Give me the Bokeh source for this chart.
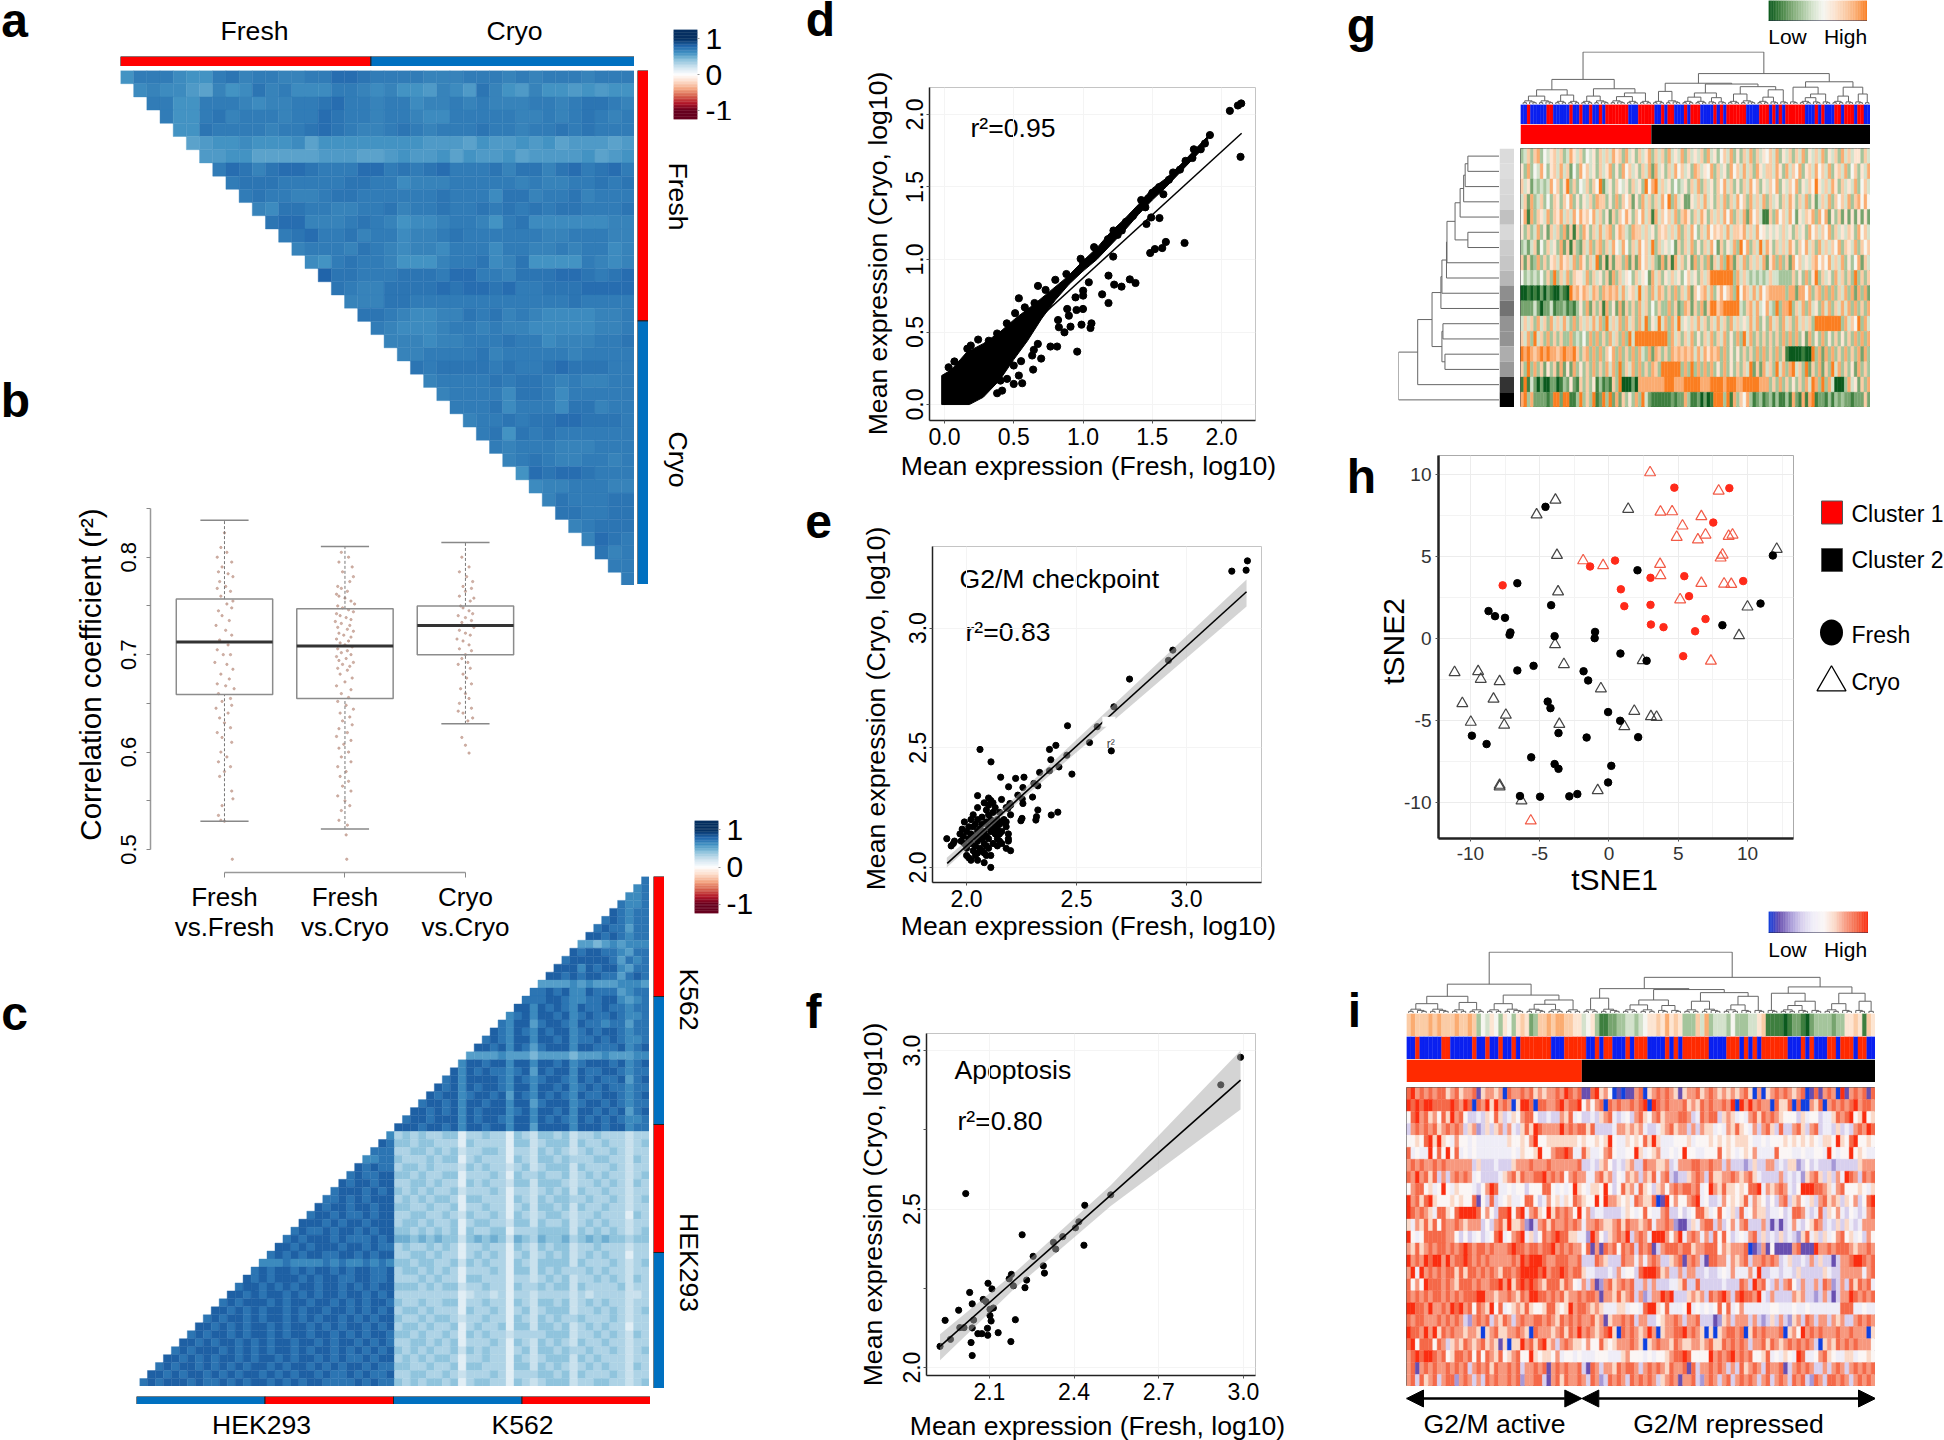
import math
import numpy as np
from bokeh.plotting import figure
from bokeh.layouts import column
from bokeh.models import Range1d, LinearAxis, FixedTicker, LinearColorMapper, Arrow, NormalHead, ColumnDataSource, PrintfTickFormatter
from bokeh.core.properties import value
from bokeh.embed import file_html
from bokeh.resources import INLINE

FONT = "Liberation Sans"
RED, BLUE = "#ff0000", "#0070c0"

# ---------- a: correlation triangle, one string per row, digit d means r = 0.5 + 0.033 d
a_rows = [
"3666433675 6655668876 6665556665 656665666",
"454421534 7564446654 5332542753 253323233",
"66336665 4556678665 6645565655 566567765",
"6336756 6656687665 6654466666 556567656",
"337666 6566787655 6765666766 566767666",
"12334 3334133333 3332221322 323122212",
"2233 1111122211 2322313223 122223123",
"687 5788766688 6767866675 775786786",
"67 7766666776 6455566666 565566767",
"6 7665567766 6666766647 756675666",
"5477665566 7566766767 676776667",
"788555676 5344566536 744444455",
"67866756 6455676666 665566655",
"5666576 5455466646 655656645",
"436766 5333566745 733336545",
"97766 6777688665 777887678",
"7655 7777878878 667778888",
"555 7766666666 666676666",
"77 6544557675 654444556",
"6 5444566565 544444556",
"5554556667 664555667",
"556666756 666656666",
"76777767 667877766",
"5666676 776565566",
"566664 776466666",
"66674 666477566",
"5667 677887776",
"673 767666666",
"65 666555666",
"5 676556656",
"387887666", "45566655", "5766677", "776677", "56777", "5876", "756", "66", "6"]

# ---------- c: correlation triangle, digit d means r = 0.1 + 0.09 d (cross block 0.13 + 0.09 d)
c_k562 = ["7","67","667","7667","87677","787677","7877577","88787677","554565666","8788776577",
"78888875767","888687886577","8878788775787","55556565556665","778786687775677","7778876677886567",
"88687876877877677","678688786787787667","7688578876877677577","87687687886787887677",
"787688688786778787667","8878687578886887778678","55556555455554555655566","688788688688786788878678",
"8687877678587886877887677","78688887687678876878778578","878687887688688786787877677",
"8788678878587687876877887678","78878688788688578886788787677","887878687888678688786887878578",
"7887888687887688687876878787667","88878878688788688588886888788677"]
c_hek = ["6","87","777","6677","87877","787788","8788788","78887878","778787888","8788788788",
"78878778788","888787887888","7877878878788","78788878777878","887878887887877","7878788778878788",
"66676666767667676","787887878878788778","8787888787887788778","78878787887887878788",
"887878878787887887878","7878887878878878787887","88787878878788788787878","787887878878787887878788",
"8878787887878878787887878","78788787887878878878787887","887878878787887887878878787",
"7878887878787887878878787878","88787878878788787887878778788","787887878787887878878787887877",
"8878788787878878787887877878778","78788878778787887878788777787877"]
c_cross = ["23232233 0 22322 0 32 1 3323 1 223222 1 22","33233222 0 32222 0 33 1 2333 1 322322 1 23",
"22332323 1 22332 0 22 1 3232 1 232232 1 22","32223233 0 23222 0 32 1 3323 2 223322 1 32",
"23323222 1 32322 1 23 1 2333 1 322232 1 22","33232233 0 22232 0 32 2 3223 1 232322 1 23",
"22332322 0 32322 1 33 1 3332 1 223232 1 32","32323223 1 22232 0 22 1 2323 1 322322 1 22",
"23232332 0 33222 0 32 1 3233 2 232232 1 23","33223223 0 22322 0 23 1 3323 1 322322 1 22",
"22332232 1 32232 0 32 1 2332 1 223222 0 32","23323223 0 23322 1 33 1 3223 1 232322 1 22",
"33232323 0 32233 0 22 2 3333 1 323232 1 23","44343433 1 34343 1 43 2 4334 2 343433 2 33",
"23223232 0 22322 0 32 1 3233 1 223222 1 22","22332322 0 23232 0 23 1 2323 1 232322 0 22",
"33233223 1 32322 0 32 1 3333 1 322232 1 23","23323232 0 22232 0 33 1 3232 2 232322 1 22",
"22232322 0 33222 0 22 1 2323 1 223232 1 32","33323233 1 22322 0 32 2 3233 1 322223 1 22",
"22222222 0 12212 0 22 1 2222 1 212222 1 12","32232233 0 22322 0 32 1 3323 1 232322 1 22",
"23323222 0 32232 0 23 1 2333 1 223232 1 23","32232332 1 22322 0 32 1 3232 2 322232 1 22",
"23323223 0 23223 0 33 1 3323 1 232322 0 22","33232232 0 32322 1 22 2 2333 1 223232 1 32",
"22332323 0 22232 0 32 1 3232 1 322322 1 22","32323223 1 32322 0 23 1 3323 2 232232 1 23",
"23232332 0 22322 0 32 1 2333 1 323222 1 22","33223223 0 33222 0 33 1 3232 1 232322 1 32",
"22332232 1 22232 0 22 2 3323 1 322232 1 22","32323323 0 23322 0 32 1 2333 1 223322 1 23"]

# ---------- b: box statistics and jittered points
b_labels = ["Fresh\nvs.Fresh", "Fresh\nvs.Cryo", "Cryo\nvs.Cryo"]
b_q1 = [0.659, 0.655, 0.700]
b_med = [0.713, 0.709, 0.730]
b_q3 = [0.757, 0.747, 0.750]
b_lo = [0.529, 0.521, 0.629]
b_hi = [0.838, 0.811, 0.815]
b_ff = [(0,.825),(-.03,.81),(.02,.805),(-.06,.80),(.06,.795),(-.02,.79),(-.05,.785),(.03,.783),(.07,.78),(-.04,.775),(.01,.77),(-.06,.768),(.05,.765),(-.03,.76),(.07,.755),(.02,.752),(-.05,.745),(.06,.748),(-.02,.74),(.04,.735),(-.07,.73),(.01,.725),(.06,.72),(-.04,.715),(.03,.71),(-.06,.705),(.05,.70),(-.01,.70),(-.08,.692),(.02,.69),(.07,.685),(-.03,.68),(.04,.675),(-.06,.67),(.01,.668),(.08,.665),(-.05,.66),(.05,.655),(-.02,.652),(-.07,.645),(.06,.648),(.03,.64),(-.04,.635),(.0,.63),(.05,.625),(-.06,.62),(-.02,.615),(.06,.61),(-.03,.60),(.02,.595),(-.05,.59),(.05,.585),(.0,.58),(-.04,.575),(.06,.56),(.07,.552),(-.02,.545),(-.05,.535),(-.03,.53),(.0,.529),(.065,.49)]
b_fc = [(-.03,.805),(.03,.80),(-.05,.795),(.06,.79),(-.02,.785),(.07,.78),(.04,.775),(-.06,.77),(-.03,.768),(.02,.765),(-.07,.762),(-.05,.76),(.0,.758),(.05,.755),(.08,.752),(-.06,.75),(-.02,.748),(.03,.746),(.07,.744),(-.07,.742),(-.04,.74),(.01,.738),(.05,.736),(-.08,.734),(-.03,.732),(.04,.73),(-.06,.728),(.02,.726),(.07,.724),(-.05,.722),(-.01,.72),(.05,.718),(-.07,.716),(.03,.714),(-.04,.712),(.0,.71),(.06,.708),(-.06,.706),(.02,.704),(-.03,.702),(.05,.70),(-.07,.698),(.01,.696),(-.05,.694),(.07,.692),(-.02,.69),(.04,.688),(-.06,.686),(.02,.684),(-.04,.68),(.06,.676),(.0,.672),(-.07,.668),(.05,.664),(-.03,.66),(.03,.656),(-.06,.652),(.01,.648),(.07,.644),(-.04,.64),(.04,.636),(-.02,.632),(.06,.628),(-.05,.624),(.02,.62),(-.07,.616),(.05,.612),(-.01,.608),(-.05,.604),(.03,.60),(-.03,.595),(.05,.59),(-.06,.585),(.01,.58),(-.04,.575),(.03,.57),(-.02,.565),(.05,.56),(-.06,.555),(.0,.55),(.04,.545),(-.03,.54),(-.05,.53),(.02,.525),(.01,.515),(.015,.49)]
b_cc = [(-.03,.80),(.03,.79),(-.05,.785),(.01,.78),(.06,.775),(-.02,.77),(.05,.768),(.0,.765),(-.05,.76),(.07,.758),(.04,.755),(-.04,.75),(-.02,.748),(.03,.745),(.06,.742),(-.06,.74),(.0,.738),(.05,.735),(-.03,.733),(.02,.73),(.07,.728),(-.05,.725),(.0,.722),(.04,.72),(-.07,.716),(-.02,.714),(.03,.71),(-.05,.706),(.05,.704),(.0,.70),(-.03,.696),(.02,.692),(-.06,.69),(.04,.686),(-.02,.68),(.01,.676),(.05,.67),(-.04,.665),(.0,.66),(.03,.655),(-.05,.65),(.05,.645),(-.02,.64),(.06,.635),(-.06,.642),(.02,.632),(-.03,.615),(.0,.607),(.03,.599)]

# ---------- d: scatter of mean expression
d_line_x, d_line_y = [0.0, 2.145], [0.0, 1.871]
d_band_x = [-.02,.05,.16,.28,.4,.52,.645,.76,.886,1.0,1.1,1.2,1.3,1.4,1.5,1.6,1.7,1.8,1.9,1.9,1.8,1.7,1.6,1.5,1.4,1.3,1.2,1.1,1.0,.9,.8,.7,.6,.5,.4,.28,.18,-.02]
d_band_y = [.2,.24,.36,.42,.5,.6,.69,.78,.88,.99,1.08,1.19,1.28,1.38,1.49,1.56,1.65,1.75,1.85,1.8,1.7,1.6,1.5,1.41,1.31,1.2,1.1,1.0,.92,.83,.72,.59,.44,.31,.17,.05,0,0]
d_x = [2.137,2.06,2.118,2.142,1.916,1.733,1.598,1.572,1.519,1.485,1.552,1.492,1.458,1.379,1.338,1.278,1.225,1.184,1.218,1.138,1.184,1.042,1.001,1.001,.946,.953,1.0,.898,.886,.82,.826,.91,.866,.989,1.061,1.054,.958,.813,.765,.698,.645,.674,.633,.64,.553,.50,.537,.50,.452,.561,.404,.416,.38,
.03,.072,.19,.165,.243,.32,.38,.45,.537,.51,.58,.675,.65,.73,.8,.88,.983,1.08,1.0,1.1,1.18,1.22,1.25,1.31,1.36,1.42,1.45,1.5,1.55,1.58,1.65,1.7,1.74,1.8,1.85,1.88,1.79,1.62,1.47,1.28]
d_y = [1.708,2.025,2.062,2.076,1.858,1.114,1.121,1.079,1.072,1.045,1.286,1.29,1.245,.838,.863,.813,.827,.889,1.02,.76,.70,.843,.785,.751,.739,.652,.659,.613,.659,.583,.533,.537,.498,.551,.56,.528,.365,.40,.40,.317,.377,.418,.338,.241,.299,.269,.20,.142,.177,.147,.165,.096,.078,
.257,.297,.407,.385,.448,.44,.49,.56,.733,.63,.67,.818,.70,.79,.86,.90,1.005,1.085,.98,1.05,1.14,1.2,1.17,1.26,1.3,1.41,1.36,1.46,1.5,1.45,1.6,1.62,1.68,1.76,1.76,1.8,1.7,1.55,1.42,1.2]

# ---------- e: G2/M checkpoint
e_pts = [(3.277,3.281),(3.206,3.238),(3.271,3.242),(2.938,2.908),(2.918,2.865),(2.741,2.787),(2.67,2.671),(2.594,2.588),(2.459,2.592),(2.559,2.522),(2.658,2.487),(2.406,2.51),(2.377,2.493),(2.383,2.45),(2.061,2.493),(2.111,2.441),(2.456,2.469),(2.42,2.42),(2.377,2.404),(2.479,2.39),(2.332,2.397),(2.155,2.377),(2.223,2.372),(2.261,2.377),(2.306,2.351),(2.324,2.341),(2.191,2.337),(2.256,2.334),(2.233,2.302),(2.3,2.294),(2.253,2.286),(2.256,2.267),(2.159,2.284),(2.324,2.24),(2.415,2.231),(2.385,2.219),(2.318,2.212),(2.315,2.198),(2.252,2.205),(2.247,2.195),(2.188,2.247),(2.197,2.267),
(1.91,2.12),(1.93,2.09),(1.94,2.1),(1.945,2.11),(1.97,2.14),(1.975,2.11),(1.98,2.16),(1.985,2.13),(1.99,2.1),(1.99,2.19),(2.0,2.15),(2.0,2.08),(2.0,2.05),(2.01,2.17),(2.01,2.12),(2.01,2.04),(2.02,2.2),(2.02,2.14),(2.02,2.1),(2.02,2.03),(2.03,2.22),(2.03,2.17),(2.03,2.13),(2.03,2.07),(2.04,2.18),(2.04,2.09),(2.04,2.05),(2.05,2.3),(2.05,2.25),(2.05,2.2),(2.05,2.15),(2.05,2.11),(2.05,2.06),(2.05,2.03),(2.06,2.16),(2.06,2.13),(2.06,2.08),(2.07,2.21),(2.07,2.18),(2.07,2.12),(2.07,2.07),(2.08,2.27),(2.08,2.15),(2.08,2.1),(2.08,2.06),(2.08,2.02),(2.09,2.24),(2.09,2.19),(2.09,2.13),(2.09,2.09),(2.09,2.05),(2.1,2.29),(2.1,2.26),(2.1,2.22),(2.1,2.17),(2.1,2.12),(2.1,2.08),(2.11,2.28),(2.11,2.2),(2.11,2.15),(2.11,2.05),(2.11,2.0),(2.12,2.27),(2.12,2.23),(2.12,2.19),(2.12,2.16),(2.12,2.1),(2.13,2.25),(2.13,2.18),(2.13,2.14),(2.14,2.2),(2.14,2.16),(2.14,2.12),(2.14,2.09),(2.15,2.23),(2.15,2.18),(2.15,2.14),(2.15,2.11),(2.16,2.19),(2.16,2.15),(2.16,2.1),(2.17,2.2),(2.18,2.25),(2.18,2.19),(2.18,2.17),(2.19,2.14),(2.19,2.12),(2.19,2.11),(2.2,2.07),(2.18,2.08),(2.2,2.22),(2.2,2.26)]
e_band_x = [1.91, 2.2, 2.6, 3.273]
e_band_lo = [2.0, 2.245, 2.56, 3.09]
e_band_hi = [2.04, 2.275, 2.62, 3.203]
e_line_x, e_line_y = [1.912, 3.273], [2.017, 3.152]

# ---------- f: Apoptosis
f_pts = [(2.99,2.979),(2.92,2.892),(2.53,2.545),(2.438,2.512),(2.417,2.46),(2.405,2.441),(2.016,2.549),(2.216,2.419),(2.36,2.413),(2.327,2.395),(2.335,2.374),(2.435,2.386),(2.255,2.351),(2.291,2.321),(2.295,2.298),(2.178,2.294),(2.17,2.28),(2.232,2.276),(2.185,2.258),(2.226,2.252),(2.095,2.266),(2.109,2.248),(2.03,2.237),(2.078,2.215),(2.088,2.208),(2.039,2.201),(2.102,2.184),(2.114,2.188),(1.991,2.181),(2.102,2.164),(2.106,2.147),(2.044,2.15),(2.192,2.151),(1.943,2.149),(1.995,2.126),(2.01,2.126),(2.039,2.125),(2.093,2.124),(2.131,2.11),(2.059,2.107),(2.073,2.107),(2.094,2.102),(1.962,2.089),(2.035,2.079),(2.176,2.082),(1.925,2.067),(2.039,2.038)]
f_band_x = [1.925, 2.19, 2.53, 2.99]
f_band_lo = [2.023, 2.25, 2.51, 2.814]
f_band_hi = [2.105, 2.30, 2.575, 3.0]
f_line_x, f_line_y = [1.925, 2.99], [2.067, 2.907]

# ---------- g: heatmap, digit 0 low to 9 high
g_rows = [
"3473783546 7473486473 5463747486 7384637468 3747384648 3746473846 3574836374 8374657483 6473748364 7483647384 7466374",
"6383548536 7484725385 7463746836 3857463748 2846374857 4638746583 7463857484 7386477486 3847583674 8574836748 3573648",
"7462434348 5736937354 7375924637 5463746395 8947463534 6374837463 7584736374 8573647583 6475836475 9647486374 6483574",
"4728347353 7637583636 4738773638 3757263847 3748593846 2264748463 7483748573 8474837463 7486374836 2474837574 8378585",
"5818376483 7684748586 7584736273 7586375847 1847574837 8637486374 7485837482 8574117385 7485264768 3858263726 2626262",
"6373483627 4738271738 6374847836 8743877474 6376747483 7485374857 6748477684 7485646464 7463746385 7475837464 7638574",
"3424725374 6382717327 4837837485 4853748574 9374645273 7483637485 2736483958 3749486374 7486375847 3847475837 6483757",
"7272383736 7486748386 3749271727 7382728574 7328271847 3628373827 4839827483 7474826838 3728574647 8575847483 6358274",
"5343435373 9374837664 8374637283 7465374652 8473647463 5746374799 9999938474 3434347443 3337363836 9374638473 7393737",
"0010102021 0021097868 7487387878 4846749473 8487373837 4827578483 6857839587 4848578888 8388288583 7838383748 3828382",
"2222420224 1223121363 8273718362 8273738473 5373383723 8727382799 7899999437 8484584393 8893748384 6384837484 8383738",
"4747384738 4748438374 7484839474 8384738493 6494838494 6474847374 8473847464 8483638473 8473847473 9999999938 4759384",
"7483947383 7373383435 3838373847 3839499999 9999938473 7483637483 7483638394 8373737373 8383836283 6383637363 7383838",
"9898789898 8789889737 8383837583 8373838438 2873738787 8784848687 8383636373 7383837383 7100001009 3828383738 3738283",
"7393837263 7282628363 7383738483 9374838373 8739999993 8393838383 6383637374 9272847394 8389473927 3827394837 3628373",
"1914202002 2013262173 7361312173 9000208888 8888999888 9999988899 9989998899 9998883738 3736373849 8393840003 8462738",
"8938222212 9929911393 7391293928 2736383942 1111112122 8311202019 9939183758 3123123131 1318218189 1221313232 2122272"]
g_row_gray = [.86,.87,.85,.84,.76,.85,.80,.78,.72,.56,.45,.58,.58,.68,.60,.20,.0]

# sample annotations shared by g and i
sample_type = "bbrbbbbbrr bbbbbrbbrb brbbrbrrrr rrrbbbrrrr rbbrbrrbbb rbrrrbbbbr brbrrrrrrb bbbrrrbrbr brrrrrrbbb rbrbbbrrbr rrbrrbb"
cluster_sizes = [40, 67]
i_score = "7877787877 7877873546 5365367623 7787887766 4563112233 4434566768 6763337483 4443533344 6711110122 1023333233 6676176"

# ---------- i: heatmap, digit 0 low to 9 high
i_rows = [
"8978787886 7867781677 6708778786 7677879878 1189675010 1178067878 7616778678 7676767860 7067878767 8018178709 1787818",
"9898998888 9879808796 9787069980 8877897889 5757808787 7878909878 7778676878 7787909797 8770866808 0076807878 7897887",
"5897867586 9785334365 8634657885 3343376845 3343678434 5378657867 7788734878 8367645478 6878765553 6455344687 8956956",
"3787878678 7873672363 6737436869 8777797878 8683333477 6767433467 8677373766 4547686547 3786383378 6378344363 4378798",
"5565896965 4755454444 4446556579 5566666665 6556569544 6565869644 4555645556 5656566654 4545556565 6565466596 5895565",
"8454495859 5845454444 4444546556 9557889844 8644578544 5596456744 5459554455 5856545657 4444855544 5445549545 5956544",
"7878778787 7777736333 4333677787 7787777778 3343675343 6733877667 3477788778 7737333236 3377343662 3534333233 3336777",
"8797868373 7878745333 3467868778 8978785787 7447867354 7673768478 3233678738 6677876786 4333373434 2678636374 9873878",
"5788564595 4655543579 8445455355 5885454596 5466595358 6748653675 7878878459 7686656588 9476787435 9998876478 5556546",
"9786896555 6565581538 3456445885 3475646587 6559597765 6487668019 5755789453 3475656847 6535378367 5463786763 6573589",
"9878764886 5899998575 3889589478 6596878759 5734433334 6545854478 3353458864 5854638457 6634453488 7434836574 3543478",
"6476868587 7876777353 7869667213 7868778787 4778766786 8776784778 7211364788 3735747833 3731313474 3568734363 6434777",
"9545888887 7535345345 8945789463 5878988664 4297536787 9378749997 5794787473 8585345478 3634363432 6846364578 5645375",
"7686787887 8789878878 7778988788 7889787877 5817187858 7838781378 8878867788 8576777801 2715111178 1119778788 8767787",
"9787989979 7889878787 7777879899 9877888778 3338763338 7747478733 6781787318 8774767837 7878734633 4373633137 7899878",
"7949787878 8686887878 7688789999 8978898788 6443334374 5538999867 3373773343 3454744474 9334434436 3333364337 7777478",
"8575988878 7688878778 8979689898 7688868754 7371278678 7833737333 4468338333 3343338739 7843737853 7337387237 3868784",
"8787878878 7878889977 6778768799 8878786778 7887177686 7837237798 9333676738 7897389887 9437333376 7332373137 7987878",
"9988797787 9897858769 5845676865 5688656978 8767644466 4554899658 4445945454 5858457444 4445544454 4544444448 8844544",
"8788777878 7873278783 7687378778 8787687878 7786716778 7837733567 7873778333 1267377737 3236373267 3873773767 3378787",
"9887979687 8776776067 8667787608 7776786879 7876789608 7876797067 7889787606 0678878068 7877780675 9787877787 7877706",
"8958885873 6768767867 6160669786 8967378766 5755865677 7876067877 6876677678 6687878737 7868767878 7873067687 8787775",
"7898998785 6887858587 6856785596 5665745545 4445554446 7555454556 7889855559 7878978785 5684546549 8445786544 6645565",
"7817878778 7878378786 8778783778 7817878778 3187377687 8873787876 8778183778 7873738678 7387781378 7873373787 3787878",
"7838678378 8278737387 8778782778 8317868778 7387238787 3878787367 8717783278 7378378787 3783787387 8328738878 7378787"]

# dendrogram topology [height, left, right]; an integer is a small cluster of that many leaves
top_tree = [1.0,
  [.478, [.28, [.16, 5, 5], [.18, 4, 4]], [.30, [.16, 4, 5], [.22, [.15, 5, 4], 4]]],
  [.589,
    [.405, [.25, 4, 5], [.39, [.22, [.14, 4, 4], [.13, 3, 3]], [.34, [.2, 4, 5], [.28, [.14, 4, 3], 3]]]],
    [.433, [.33, 3, [.2, [.13, 4, 3], 3]], [.33, [.16, 4, 3], [.2, 3, 2]]]]]
leaf_heights = {2: .035, 3: .05, 4: .06, 5: .07}
_n5 = [.44, [.39, [.355, [.34, [.313, 1, 1], 1], 1], 1], [.313, 1, 1]]
_n10 = [.58, [.57, [.525, [.52, _n5, 1], 1], 1], 1]
left_tree = [1.0, [.81, [.668, _n10, [.57, [.56, 1, 1], [.54, 1, 1]]], 1], 1]

# ---------- h: tSNE
h_fresh_red = [(4.72,9.2),(8.69,9.17),(7.53,7.07),(.44,4.75),(-1.36,4.39),(-7.67,3.24),(3,3.7),(5.44,3.8),(9.69,3.5),(.86,3.0),(5.78,2.58),(1.11,1.97),(3,2.05),(6.97,1.19),(3.03,.85),(3.94,.69),(6.22,.44),(5.36,-1.08)]
h_fresh_blk = [(-4.58,8.03),(-6.61,3.37),(2.06,4.16),(11.83,5.06),(-4.17,2.03),(10.94,2.13),(-8.69,1.67),(-8.22,1.36),(-7.5,1.26),(-7.11,.37),(-7.17,.22),(-3.92,.14),(-1,.4),(-1.03,.02),(8.19,.81),(.83,-.92),(2.72,-1.36),(-6.61,-1.95),(-5.44,-1.67),(-1.83,-2.0),(-1.5,-2.56),(-4.42,-3.85),(-4.22,-4.25),(-.06,-4.49),(.81,-5.02),(-3.64,-5.77),(-9.89,-5.93),(-8.83,-6.44),(-1.61,-6.04),(2.11,-6.02),(-5.61,-7.25),(-3.92,-7.66),(-3.64,-7.95),(.17,-7.77),(-.06,-8.78),(-6.42,-9.61),(-4.97,-9.65),(-2.86,-9.63),(-2.28,-9.49)]
h_cryo_red = [(2.97,10.12),(7.92,9.0),(3.72,7.72),(4.56,7.74),(6.67,7.44),(5.31,6.87),(4.89,6.18),(6.42,6.02),(6.97,6.32),(8.64,6.24),(8.92,6.32),(8.2,5.1),(8.06,4.92),(-1.86,4.75),(-.42,4.45),(3.69,4.53),(3.72,3.84),(6.67,3.37),(8.31,3.33),(8.83,3.31),(5.14,2.37),(7.36,-1.37),(-5.64,-11.12)]
h_cryo_blk = [(-3.86,8.45),(-5.22,7.55),(1.39,7.89),(12.11,5.45),(-3.75,5.08),(-3.67,2.85),(10,1.93),(9.39,.18),(-3.89,-.37),(-3.25,-1.58),(2.44,-1.34),(-11.14,-2.07),(-9.44,-2.01),(-9.25,-2.48),(-7.89,-2.62),(-.58,-3.06),(-10.58,-3.96),(-8.33,-3.69),(-7.44,-4.67),(-9.97,-5.1),(-7.56,-5.28),(-3.58,-5.23),(1.83,-4.43),(3.03,-4.76),(3.44,-4.8),(1.11,-5.37),(-7.89,-8.94),(-7.89,-9.04),(-.81,-9.27),(-6.31,-9.9)]

# ---------- palettes
def gradient(stops, n=256):
    rgb = np.array([[int(s[i:i+2], 16) for i in (1, 3, 5)] for s in stops], float)
    t = np.linspace(0, 1, len(stops))
    q = np.linspace(0, 1, n)
    out = np.stack([np.interp(q, t, rgb[:, k]) for k in range(3)], axis=1).astype(int)
    return ["#%02x%02x%02x" % tuple(v) for v in out]

corr_map = LinearColorMapper(palette=gradient(["#67001F","#B2182B","#D6604D","#F4A582","#FDDBC7","#FFFFFF","#D1E5F0","#92C5DE","#4393C3","#2166AC","#053061"]), low=-1, high=1)
green_map = LinearColorMapper(palette=gradient(["#0b5a1e","#3f8040","#78a570","#a5c59c","#d5e3cd","#f6f7f1","#fde5d2","#fbcda8","#fbad72","#fb7e21"]), low=0, high=9)
purple_map = LinearColorMapper(palette=gradient(["#1040e0","#6a50b0","#a89ad8","#d8d0ee","#f0eef8","#fbf7f6","#fbd9c8","#f89a80","#f56a4a","#fb2d10"]), low=0, high=9)

def place(left, top):
    return {"position": "absolute", "left": f"{left}px", "top": f"{top}px"}

def bare(left, top, w, h, xr, yr):
    p = figure(width=w, height=h, frame_width=w, frame_height=h, x_range=Range1d(*xr), y_range=Range1d(*yr),
               x_axis_type=None, y_axis_type=None, toolbar_location=None, output_backend="svg", frame_align=False,
               min_border=0, background_fill_color=None, border_fill_color=None, outline_line_color=None,
               styles=place(left, top))
    figs.append(p)
    return p

def axes(left, top, w, h, xr, yr, L=110, B=80, T=40, R=60):
    p = figure(width=w+L+R, height=h+T+B, frame_width=w, frame_height=h, x_range=Range1d(*xr), y_range=Range1d(*yr),
               toolbar_location=None, output_backend="svg", min_border_left=L, min_border_right=R, min_border_top=T,
               min_border_bottom=B, background_fill_color=None, border_fill_color=None, outline_line_color="#c4c4c4",
               frame_align=False, styles=place(left-L, top-T))
    figs.append(p)
    return p

def style(p, xticks, yticks, tick_px="23px", xstand=4, ystand=3, vertical=True, fmt="%.1f"):
    for ax, ticks, lab_st in ((p.xaxis[0], xticks, xstand), (p.yaxis[0], yticks, ystand)):
        ax.major_label_text_font = FONT
        ax.major_label_text_font_size = tick_px
        ax.major_label_text_color = "#000000"
        ax.major_label_standoff = lab_st
        ax.ticker = FixedTicker(ticks=ticks)
        ax.formatter = PrintfTickFormatter(format=fmt)
        ax.major_tick_in = 0
        ax.major_tick_out = 3
        ax.minor_tick_line_color = None
        ax.axis_line_color = "#222222"
        ax.axis_line_width = 1.5
        ax.major_tick_line_color = "#555555"
    if vertical:
        p.yaxis[0].major_label_orientation = "vertical"
    p.xgrid.grid_line_color = "#f4f4f4"
    p.ygrid.grid_line_color = "#f4f4f4"

def draw_cells(p, lefts, tops, vals, mapper):
    src = ColumnDataSource(dict(l=lefts, r=[v+1 for v in lefts], t=tops, b=[v+1 for v in tops], v=vals))
    col = {"field": "v", "transform": mapper}
    p.quad(left="l", right="r", top="t", bottom="b", source=src, fill_color=col, line_color=col, line_width=0.4)

def blocks(p, sizes, colors, horizontal=True, edge="#222222"):
    pos = 0
    for s, c in zip(sizes, colors):
        if horizontal:
            p.quad(left=[pos], right=[pos+s], bottom=[0], top=[1], fill_color=c, line_color=edge, line_width=1)
        else:
            p.quad(left=[0], right=[1], top=[pos], bottom=[pos+s], fill_color=c, line_color=edge, line_width=1)
        pos += s

def tree_segments(node, start):
    if isinstance(node, int):
        if node == 1:
            return [], start + .5, 0.0, 1
        h = leaf_heights[node]
        a, b = node // 2, node - node // 2
        sa, ca, ha, na = tree_segments(a, start)
        sb, cb, hb, nb = tree_segments(b, start + a)
        return sa + sb + [([ca, ca, cb, cb], [ha, h, h, hb])], (ca + cb) / 2, h, node
    h, l, r = node
    sa, ca, ha, na = tree_segments(l, start)
    sb, cb, hb, nb = tree_segments(r, start + na)
    return sa + sb + [([ca, ca, cb, cb], [ha, h, h, hb])], (ca + cb) / 2, h, na + nb

def colorbar_v(left, top, w, h, tick_gap):
    p = figure(width=w+50, height=h+2, frame_width=w, frame_height=h, x_range=Range1d(0, 1), y_range=Range1d(-1.25, 1.25),
               x_axis_type=None, y_axis_type=None, toolbar_location=None, output_backend="svg", min_border_left=0,
               min_border_right=50, min_border_top=1, min_border_bottom=1, background_fill_color=None, border_fill_color=None,
               outline_line_color=None, frame_align=False, styles=place(left, top-1))
    lv = np.linspace(-1.25, 1.25, 61)
    src = ColumnDataSource(dict(b=lv[:-1], t=lv[1:], v=(lv[:-1]+lv[1:])/2))
    c = {"field": "v", "transform": corr_map}
    p.quad(left=0, right=1, bottom="b", top="t", source=src, fill_color=c, line_color=c, line_width=0.4)
    ax = LinearAxis(ticker=FixedTicker(ticks=[-1, 0, 1]), major_label_text_font=FONT, major_label_text_font_size="30px",
                    major_label_text_color="#000000", axis_line_color=None, major_tick_in=0, major_tick_out=2,
                    major_tick_line_color="#999999", major_label_standoff=tick_gap,
                    major_label_overrides={-1: "-1", 0: "0", 1: "1"}, minor_tick_line_color=None)
    p.add_layout(ax, "right")
    figs.append(p)
    return p

def colorbar_h(left, top, w, h, mapper):
    p = bare(left, top, w, h, (0, 9), (0, 1))
    lv = np.linspace(0, 9, 61)
    src = ColumnDataSource(dict(l=lv[:-1], r=lv[1:], v=(lv[:-1]+lv[1:])/2))
    c = {"field": "v", "transform": mapper}
    p.quad(left="l", right="r", bottom=0, top=1, source=src, fill_color=c, line_color=c, line_width=0.4)
    p.line(x=[0, 9], y=[0, 0], line_color="#222244", line_width=2)
    return p

def clean(s, n, pad="5"):
    s = s.replace(" ", "")
    return s.ljust(n, pad)[:n]

figs = []
sheets = {(i, j): bare(l, t, w, h, (l, l+w), (t+h, t))
          for (i, j), (l, t, w, h) in {(0, 0): (0, 0, 800, 1400), (1, 0): (800, 0, 1144, 1400),
                                       (0, 1): (0, 1300, 800, 140), (1, 1): (800, 1300, 1144, 140)}.items()}

def sheet(x, y):
    return sheets[(int(x >= 800), int(y >= 1390))]

def T(x, y, s, size="26.6px", angle=0, align="center", bold=False):
    sheet(x, y).text(x=[x], y=[y], text=[s], text_font=value(FONT), text_font_size=size, angle=angle, text_align=align,
                     text_baseline="middle", text_color="#000000", text_font_style="bold" if bold else "normal")

VERT = math.pi/2
for s, x, y in [("a",14,20),("b",15,400),("c",14,1013),("d",820,19),("e",818,521),("f",813,1011),("g",1361,25),("h",1361,476),("i",1354,1010)]:
    T(x, y, s, "48px", bold=True)

# ---- panel a
p = bare(120, 70, 514, 515, (0, 39), (39, 0))
L_, T_, V_ = [], [], []
for r, s in enumerate(a_rows):
    s = s.replace(" ", "")[-(39-r):]
    for i, ch in enumerate(s):
        L_.append(39-len(s)+i); T_.append(r); V_.append(.5+.033*int(ch))
draw_cells(p, L_, T_, V_, corr_map)
blocks(bare(120, 55, 514, 11, (0, 39), (0, 1)), [19, 20], [RED, BLUE])
blocks(bare(637, 70, 11, 514, (0, 1), (39, 0)), [19, 20], [RED, BLUE], horizontal=False)
colorbar_v(673, 29, 24, 90, 6)
T(254, 30, "Fresh"); T(514, 30, "Cryo")
T(677, 196, "Fresh", angle=-VERT); T(677, 459, "Cryo", angle=-VERT)

# ---- panel b
p = axes(150, 508, 380, 364, (0.386, 3.54), (0.4764, 0.85), L=110, B=90)
p.outline_line_color = None
style(p, [1, 2, 3], [.5, .6, .7, .8], tick_px="22px", xstand=4, ystand=10)
p.xaxis[0].major_label_text_font_size = "26px"
p.xaxis[0].major_label_text_line_height = 1.0
p.xaxis[0].major_label_overrides = {1: b_labels[0], 2: b_labels[1], 3: b_labels[2]}
p.xaxis[0].bounds = (1, 3)
p.yaxis[0].bounds = (.5, .85)
p.yaxis[0].ticker = FixedTicker(ticks=[.5, .6, .7, .8], minor_ticks=[.55, .65, .75, .85])
p.yaxis[0].minor_tick_line_color = "#888888"
p.yaxis[0].minor_tick_in = 0
p.yaxis[0].minor_tick_out = 4
p.yaxis[0].major_tick_out = 4
for ax in (p.xaxis[0], p.yaxis[0]):
    ax.axis_line_color = "#999999"; ax.major_tick_line_color = "#888888"
p.xaxis[0].major_tick_out = 5
p.grid.grid_line_color = None
for cat, pts in zip([1, 2, 3], [b_ff, b_fc, b_cc]):
    p.scatter(x=[cat+a for a, b in pts], y=[b for a, b in pts], size=2.3, color="#c09a8c", alpha=.75)
cats = [1, 2, 3]
p.segment(x0=cats, x1=cats, y0=b_lo, y1=b_q1, line_color="#777777", line_dash="3 2", line_width=1)
p.segment(x0=cats, x1=cats, y0=b_q3, y1=b_hi, line_color="#777777", line_dash="3 2", line_width=1)
p.quad(left=[c-.4 for c in cats], right=[c+.4 for c in cats], bottom=b_q1, top=b_q3, fill_color=None, line_color="#8c8c8c", line_width=1.5)
p.segment(x0=[c-.4 for c in cats], x1=[c+.4 for c in cats], y0=b_med, y1=b_med, line_color="#333333", line_width=3)
p.segment(x0=[c-.2 for c in cats]*2, x1=[c+.2 for c in cats]*2, y0=b_lo+b_hi, y1=b_lo+b_hi, line_color="#888888", line_width=1.5)
T(90, 674, "Correlation coefficient (r\u00b2)", "29.5px", angle=VERT)

# ---- panel c
p = bare(139, 876, 510, 510, (0, 64), (64, 0))
L_, T_, V_ = [], [], []
for r, s in enumerate(c_k562):
    for i, ch in enumerate(s):
        L_.append(64-len(s)+i); T_.append(r); V_.append(.1+.09*int(ch))
for r, (s, t) in enumerate(zip(c_hek, c_cross)):
    t = t.replace(" ", "")
    for i, ch in enumerate(s):
        L_.append(32-len(s)+i); T_.append(32+r); V_.append(.1+.09*int(ch))
    for i, ch in enumerate(t):
        L_.append(32+i); T_.append(32+r); V_.append(.13+.09*int(ch))
draw_cells(p, L_, T_, V_, corr_map)
blocks(bare(136, 1394, 514, 10, (0, 64), (0, 1)), [16, 16, 16, 16], [BLUE, RED, BLUE, RED])
blocks(bare(653, 876, 11, 512, (0, 1), (64, 0)), [15, 16, 16, 17], [RED, BLUE, RED, BLUE], horizontal=False)
colorbar_v(694, 820, 24, 93, 6)
T(261, 1424, "HEK293"); T(522, 1424, "K562")
T(688, 999, "K562", angle=-VERT); T(688, 1262, "HEK293", angle=-VERT)

# ---- panel d
p = axes(929, 87, 326, 333, (-.108, 2.245), (-.11, 2.186))
style(p, [0, .5, 1, 1.5, 2], [0, .5, 1, 1.5, 2])
p.patch(x=d_band_x, y=d_band_y, color="#000000")
p.scatter(x=d_x, y=d_y, size=7.2, color="#000000")
p.line(x=d_line_x, y=d_line_y, line_color="#000000", line_width=1.5)
T(970, 127, "r\u00b2=0.95", align="left")
T(1088, 465, "Mean expression (Fresh, log10)"); T(877, 253, "Mean expression (Cryo, log10)", angle=VERT)

# ---- panel e
p = axes(932, 546, 329, 336, (1.845, 3.341), (1.937, 3.341))
style(p, [2, 2.5, 3], [2, 2.5, 3])
p.scatter(x=[a for a, b in e_pts], y=[b for a, b in e_pts], size=6.2, color="#000000")
p.varea(x=e_band_x, y1=e_band_lo, y2=e_band_hi, fill_color="#aaaaaa", fill_alpha=.5)
p.line(x=e_line_x, y=e_line_y, line_color="#000000", line_width=1.6)
p.quad(left=[2.617], right=[2.677], bottom=[2.588], top=[2.63], fill_color="#ffffff", line_color=None)
p.text(x=[2.655], y=[2.515], text=["r\u00b2"], text_font=value(FONT), text_font_size="12px", text_align="center", text_baseline="middle", text_color="#444444")
T(959, 578, "G2/M checkpoint", align="left")
T(965, 631, "r\u00b2=0.83", align="left")
T(1088, 925, "Mean expression (Fresh, log10)"); T(875, 708, "Mean expression (Cryo, log10)", angle=VERT)

# ---- panel f
p = axes(926, 1033, 329, 342, (1.877, 3.043), (1.975, 3.054))
style(p, [2.1, 2.4, 2.7, 3.0], [2, 2.5, 3])
p.yaxis[0].ticker = FixedTicker(ticks=[2, 2.5, 3], minor_ticks=[2.25, 2.75])
p.yaxis[0].minor_tick_line_color = "#555555"
p.yaxis[0].minor_tick_in = 0
p.yaxis[0].minor_tick_out = 3
p.scatter(x=[a for a, b in f_pts], y=[b for a, b in f_pts], size=6.2, color="#000000")
p.varea(x=f_band_x, y1=f_band_lo, y2=f_band_hi, fill_color="#aaaaaa", fill_alpha=.5)
p.line(x=f_line_x, y=f_line_y, line_color="#000000", line_width=1.6)
T(954, 1069, "Apoptosis", align="left")
T(957, 1120, "r\u00b2=0.80", align="left")
T(1097, 1425, "Mean expression (Fresh, log10)"); T(872, 1204, "Mean expression (Cryo, log10)", angle=VERT)

# ---- annotations helper for g and i
st = sample_type.replace(" ", "")
def type_strip(left, top, w, h, red):
    q = bare(left, top, w, h, (0, 107), (0, 1))
    idx = list(range(107))
    cols = ["#0a20f0" if c == "b" else red for c in st]
    q.quad(left=idx, right=[v+1 for v in idx], bottom=0, top=1, fill_color=cols, line_color=cols, line_width=.3)
def cluster_strip(left, top, w, h, red):
    blocks(bare(left, top, w, h, (0, 107), (0, 1)), cluster_sizes, [red, "#000000"], edge=None)
def dendro_top(left, top, w, h):
    q = bare(left, top, w, h, (0, 107), (0, 1.01))
    segs, *_ = tree_segments(top_tree, 0)
    q.multi_line(xs=[s[0] for s in segs], ys=[s[1] for s in segs], line_color="#666666", line_width=1)
def matrix(left, top, w, h, rows, mapper):
    q = bare(left, top, w, h, (0, 107), (len(rows), 0))
    L_, T_, V_ = [], [], []
    for r, s in enumerate(rows):
        for i, ch in enumerate(clean(s, 107)):
            L_.append(i); T_.append(r); V_.append(int(ch))
    draw_cells(q, L_, T_, V_, mapper)
    q.outline_line_color = "#555555"

# ---- panel g
colorbar_h(1768, 0, 99, 21, green_map)
T(1787, 36, "Low", "21px"); T(1845, 36, "High", "21px")
dendro_top(1521, 51, 349, 53)
type_strip(1520, 104, 350, 20, RED)
cluster_strip(1520, 124, 350, 20, RED)
matrix(1520, 148, 350, 259, g_rows, green_map)
q = bare(1499, 148, 15, 259, (0, 1), (17, 0))
gl = list(range(17))
q.quad(left=0, right=1, top=gl, bottom=[v+1 for v in gl], fill_color=["#%02x%02x%02x" % ((int(g*255),)*3) for g in g_row_gray], line_color=None)
q = bare(1398, 148, 101, 259, (1.0, 0), (17, 0))
segs, *_ = tree_segments(left_tree, 0)
q.multi_line(xs=[s[1] for s in segs], ys=[s[0] for s in segs], line_color="#666666", line_width=1)

# ---- panel h
p = axes(1438, 455, 355, 383, (-12.3, 13.32), (-12.2, 11.16), L=100, B=70)
style(p, [-10, -5, 0, 5, 10], [-10, -5, 0, 5, 10], tick_px="19px", vertical=False, fmt="%d")
p.xaxis[0].ticker = FixedTicker(ticks=[-10, -5, 0, 5, 10], minor_ticks=[-7.5, -2.5, 2.5, 7.5, 12.5])
p.yaxis[0].ticker = FixedTicker(ticks=[-10, -5, 0, 5, 10], minor_ticks=[-7.5, -2.5, 2.5, 7.5])
p.grid.grid_line_color = "#ececec"
p.grid.minor_grid_line_color = "#f3f3f3"
for ax in (p.xaxis[0], p.yaxis[0]):
    ax.axis_line_width = 2.5
    ax.major_label_text_color = "#333333"
    ax.minor_tick_line_color = None
p.outline_line_color = "#aaaaaa"
p.scatter([a for a, b in h_cryo_red], [b for a, b in h_cryo_red], marker="triangle", size=11, fill_color=None, line_color="#f25a46", line_width=1.2)
p.scatter([a for a, b in h_cryo_blk], [b for a, b in h_cryo_blk], marker="triangle", size=11, fill_color=None, line_color="#444444", line_width=1.2)
p.scatter([a for a, b in h_fresh_red], [b for a, b in h_fresh_red], size=7.5, color="#ff2a1a")
p.scatter([a for a, b in h_fresh_blk], [b for a, b in h_fresh_blk], size=7.5, color="#000000")
T(1614, 879, "tSNE1", "30px"); T(1393, 641, "tSNE2", "30px", angle=VERT)
leg = sheet(1831, 512)
leg.rect(x=[1831.5, 1831.5], y=[512, 559.5], width=21, height=23, fill_color=[RED, "#000000"], line_color="#555555")
leg.ellipse(x=[1831], y=[632], width=23, height=26, fill_color="#000000", line_color=None)
leg.scatter(x=[1831], y=[682], marker="triangle", size=29, fill_color=None, line_color="#000000", line_width=1.3)
T(1851, 513, "Cluster 1", "23px", align="left"); T(1851, 559, "Cluster 2", "23px", align="left")
T(1851, 634, "Fresh", "23px", align="left"); T(1851, 681, "Cryo", "23px", align="left")

# ---- panel i
colorbar_h(1768, 911, 100, 22, purple_map)
T(1787, 949, "Low", "21px"); T(1845, 949, "High", "21px")
dendro_top(1406, 951, 469, 62)
q = bare(1406, 1013, 469, 23, (0, 107), (0, 1))
idx = list(range(107))
draw_v = [int(c) for c in clean(i_score, 107)]
qsrc = ColumnDataSource(dict(l=idx, r=[v+1 for v in idx], v=draw_v))
qc = {"field": "v", "transform": green_map}
q.quad(left="l", right="r", bottom=0, top=1, source=qsrc, fill_color=qc, line_color=qc, line_width=.3)
type_strip(1406, 1036, 469, 23, "#ff2a00")
cluster_strip(1406, 1059, 469, 23, "#ff2a00")
matrix(1406, 1087, 469, 299, i_rows, purple_map)
q = bare(1406, 1386, 469, 24, (0, 107), (0, 1))
def head():
    return NormalHead(size=17, fill_color="#000000", line_color="#000000")
q.add_layout(Arrow(start=head(), end=head(), x_start=0, x_end=cluster_sizes[0], y_start=.5, y_end=.5, line_width=2.5))
q.add_layout(Arrow(start=head(), end=head(), x_start=cluster_sizes[0], x_end=107, y_start=.5, y_end=.5, line_width=2.5))
T(1494, 1423, "G2/M active"); T(1728, 1423, "G2/M repressed")

page = column(*figs, width=1928, height=1424, styles={"position": "relative"})
open("out.html", "w").write(file_html(page, INLINE))
